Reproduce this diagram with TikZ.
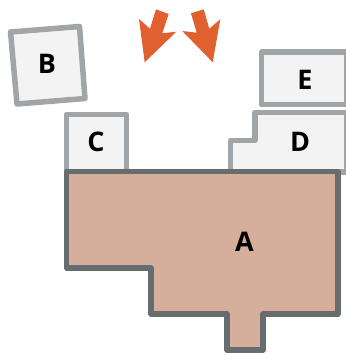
\documentclass[tikz,border=0pt]{standalone}
\usepackage{fontspec}
\setmainfont{Open Sans}
\definecolor{blockfill}{HTML}{F3F3F3}
\definecolor{blockline}{HTML}{A1A5A7}
\definecolor{mainfill}{HTML}{D6AF9C}
\definecolor{mainline}{HTML}{676D6F}
\definecolor{arrowfill}{HTML}{E1602F}
\tikzset{
    block/.style={draw=blockline, fill=blockfill, line width=5.5pt, line join=round},
    mainblock/.style={draw=mainline, fill=mainfill, line width=5.5pt, line join=round},
    pusharrow/.style={fill=arrowfill},
    blocklabel/.style={font=\fontsize{27}{27}\selectfont\bfseries, inner sep=0pt}
}

\begin{document}
\begin{tikzpicture}[x=1pt, y=-1pt]
    \useasboundingbox (0,0) rectangle (346,360);
    \clip (0,0) rectangle (346,360);

    % 小块
    \draw[block] (10.5,32) -- (79.5,26.5) -- (85,98.5) -- (17,104) -- cycle;
    \draw[block] (66.5,172) -- (66.5,114.5) -- (126.7,114.5) -- (126.7,172);
    \draw[block] (346.8,52) -- (261.7,52) -- (261.7,104.7) -- (346.8,104.7) -- cycle;
    \draw[block] (346.8,112.3) -- (255,112.3) -- (255,140.7) -- (230.3,140.7) -- (230.3,172)
        -- (346.8,172) -- cycle;

    % 主体
    \draw[mainblock] (66.7,171.5) -- (338,171.5) -- (338,314) -- (263,314) -- (263,350)
        -- (227,350) -- (227,314) -- (151,314) -- (151,268) -- (66.7,268) -- cycle;

    % 两个箭头
    \fill[pusharrow] (156,9.3) -- (168.7,14) -- (162.3,33.3) -- (176.3,31.7) -- (144.7,62.3)
        -- (139,19) -- (150,28.7) -- cycle;
    \fill[pusharrow] (191,13.3) -- (203.7,9.3) -- (209.3,28.7) -- (220.3,19.3) -- (212.7,62.3)
        -- (182.3,31) -- (196.7,32.7) -- cycle;

    % 标记
    \node[blocklabel] (labelA) at (244.5,241.5) {A};
    \node[blocklabel] (labelB) at (47,63.5) {B};
    \node[blocklabel] (labelC) at (96,142) {C};
    \node[blocklabel] (labelD) at (300,141.5) {D};
    \node[blocklabel] (labelE) at (305,80) {E};
\end{tikzpicture}
\end{document}
